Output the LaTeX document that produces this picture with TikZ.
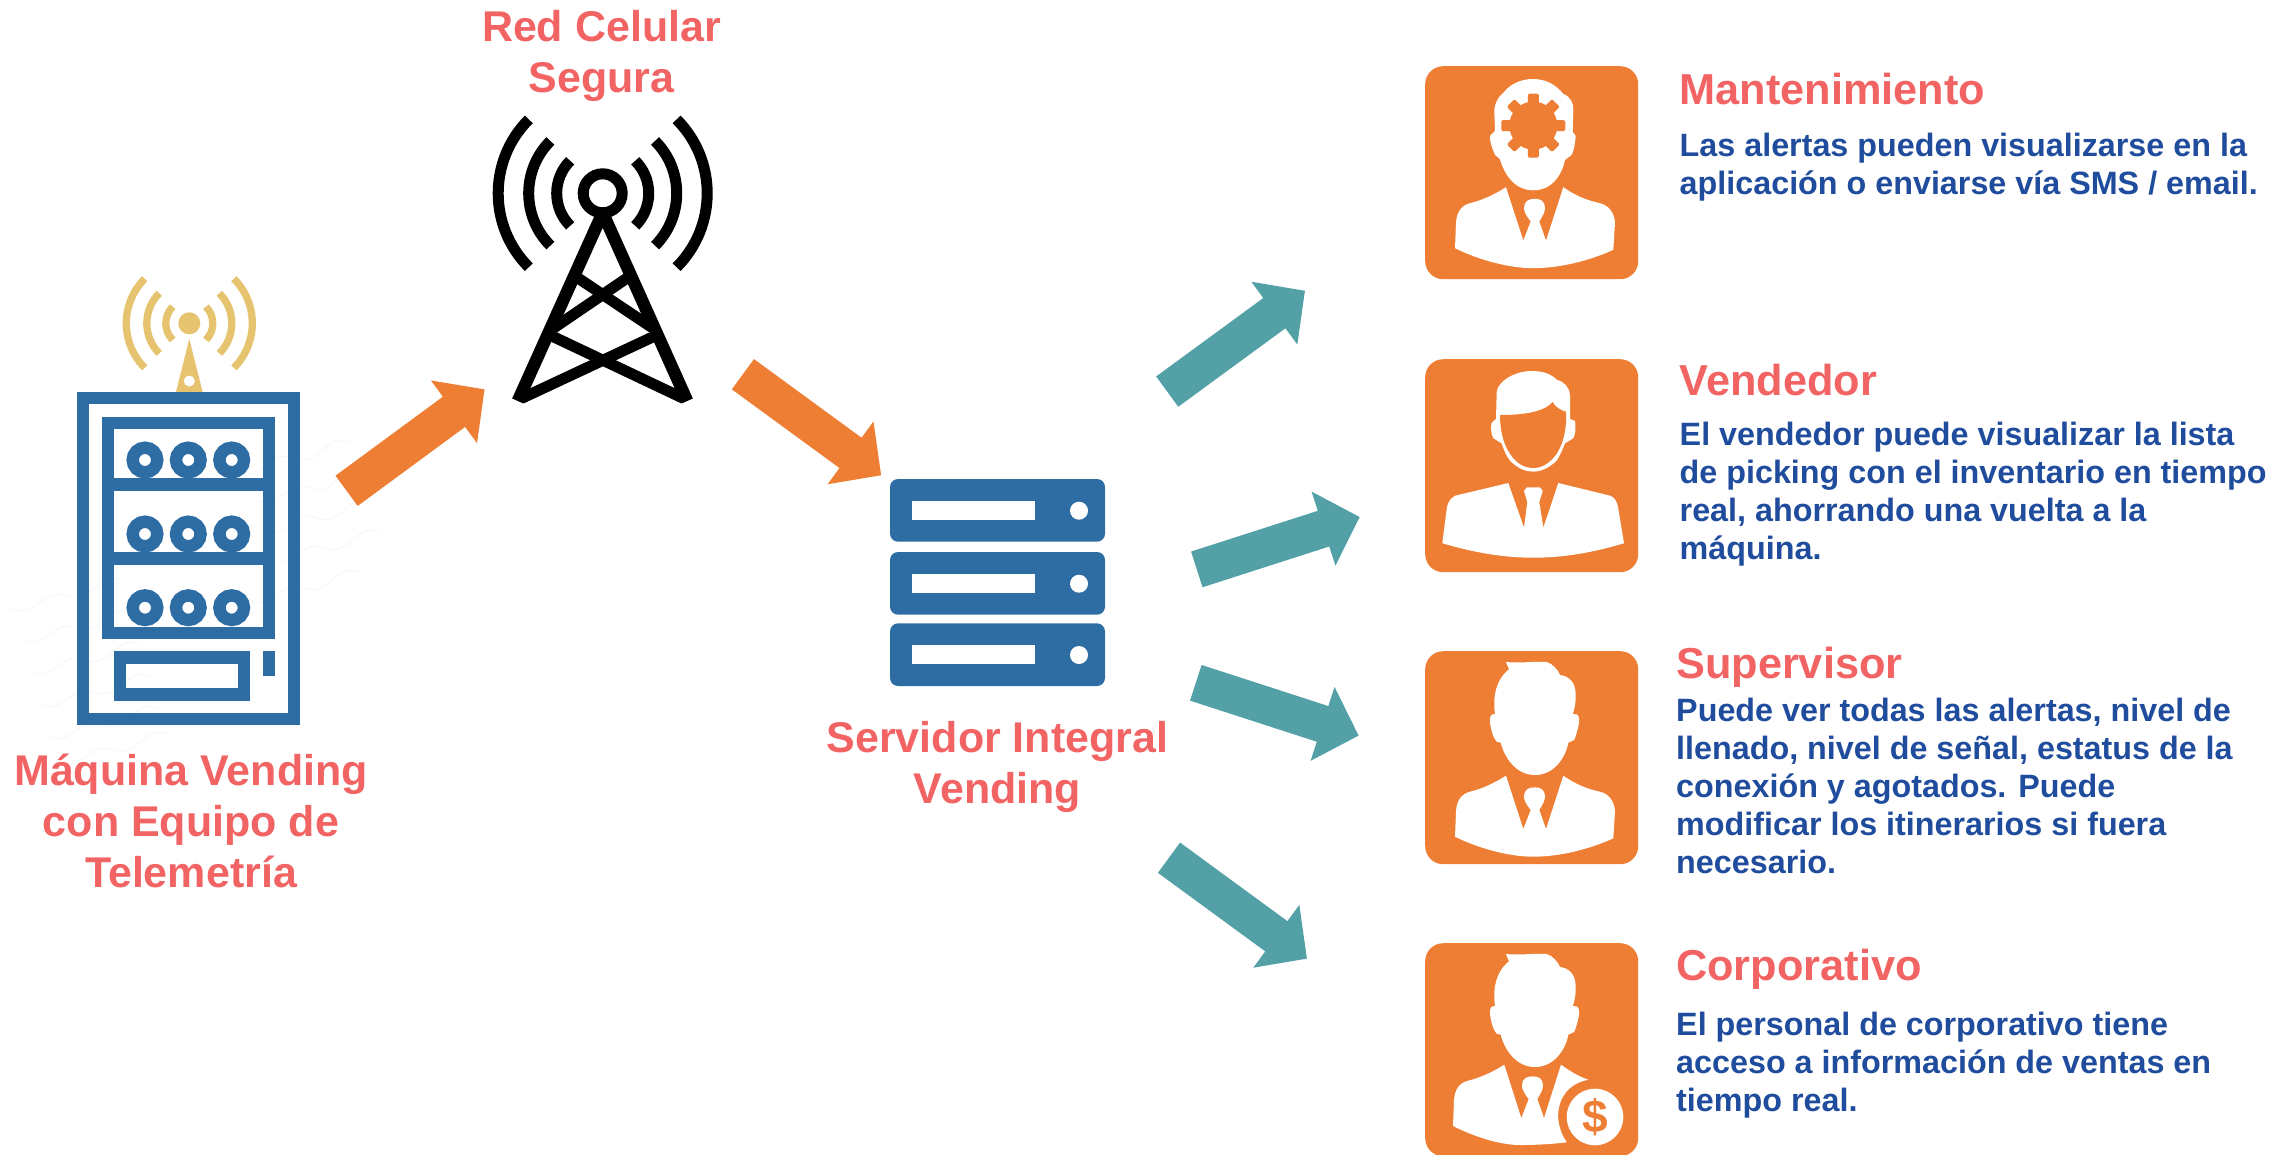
\documentclass[tikz,border=0pt]{standalone}
\usepackage{fontspec}
\setmainfont{Liberation Sans}
\usetikzlibrary{arrows.meta}
\definecolor{cardorange}{HTML}{EE7E33}
\definecolor{arrowteal}{HTML}{53A1A6}
\definecolor{iconblue}{HTML}{2E6DA4}
\definecolor{antennagold}{HTML}{E6C36F}
\definecolor{labelred}{HTML}{F26464}
\definecolor{bodynavy}{HTML}{1F4C9C}
\definecolor{wavegray}{HTML}{F7F9FC}
\tikzset{
  blockarrow/.style={line width=37.5pt,-{Triangle[length=38pt,width=75.5pt]}},
  orangearrow/.style={blockarrow,draw=cardorange},
  tealarrow/.style={blockarrow,draw=arrowteal},
  redlabel/.style={text=labelred,font=\fontsize{43}{51}\selectfont\bfseries,align=center,anchor=north,inner sep=0pt,execute at begin node=\strut},
  cardtitle/.style={text=labelred,font=\fontsize{43.3}{51}\selectfont\bfseries,anchor=base west,inner sep=0pt},
  cardtext/.style={text=bodynavy,font=\fontsize{32.3}{38}\selectfont\bfseries,align=left,anchor=north west,inner sep=0pt,execute at begin node=\strut},
  cardbox/.style={fill=cardorange,rounded corners=18pt,minimum size=213pt,inner sep=0pt,anchor=north west},
  bluebar/.style={draw=iconblue,line width=12.4pt},
  serverbox/.style={fill=iconblue,rounded corners=8pt},
}
% local coordinates of the card icons, pixels from the corner of the card
\def\plainhead{(81,11) .. controls (95,12.5) and (110,10) .. (121.7,11) .. controls (128,13) and (133,19) .. (135,24)
  .. controls (143,25) and (150,30) .. (150.7,42.3) .. controls (151,50) and (150,57) .. (147.7,63) -- (152,63.5)
  .. controls (154.5,65) and (154.5,70) .. (153.3,75.7) .. controls (152,81) and (150,88) .. (149,89) -- (143.3,91.7)
  .. controls (141,105) and (130,124) .. (110,124) .. controls (90,124) and (79,105) .. (75.7,91.7) -- (71.7,90.7)
  .. controls (69,88) and (66.5,81) .. (65.7,75.7) .. controls (64.5,70) and (64.5,65) .. (67,63.5) -- (70,63)
  .. controls (68,50) and (69,30) .. (84,18.3) -- cycle}
\def\plainbody{(81,124.7) .. controls (68,133) and (56,138) .. (45,140.7) .. controls (36,143) and (31.7,150) .. (31,160)
  -- (30,185.7) .. controls (55,198) and (85,205.7) .. (108.3,205.7) .. controls (135,205.7) and (165,198) .. (188.3,187.3)
  -- (190,160) .. controls (189,150) and (184,143) .. (175,140.7) .. controls (162,138) and (150,133) .. (138.3,124.7)
  -- (121,178) -- (114.3,159) .. controls (118,153) and (120,149) .. (120,145.7) .. controls (120,139) and (116,136.3) .. (110,136.3)
  .. controls (103,136.3) and (99,139) .. (99,145.7) .. controls (99,149) and (101,153) .. (105.7,159) -- (98.3,178) -- cycle}
\newcommand\signalarcs[3]{%
  \begin{scope}[shift={(#1,#2)},y=1pt]
    \foreach \rad in {#3}{
      \draw (45:\rad) arc (45:-45:\rad);
      \draw (135:\rad) arc (135:225:\rad);
    }
  \end{scope}}
\begin{document}
\begin{tikzpicture}[x=1pt,y=-1pt]
  \useasboundingbox (0,0) rectangle (2278,1154);
  % faint waves behind the machine
  \foreach \wx/\wy in {12/608,22/640,30/672,40/704,48/736,58/762,240/470,255/500,262/530,270/560,250/600}{
    \draw[wavegray,line width=1.5pt] (\wx,\wy) .. controls (\wx+25,\wy+12) and (\wx+30,\wy-22) .. (\wx+55,\wy-12)
      .. controls (\wx+80,\wy-2) and (\wx+85,\wy-38) .. (\wx+110,\wy-28);
  }
  % vending machine
  \fill[antennagold] (189.3,339) -- (202.7,392) -- (176,392) -- cycle;
  \fill[white] (189.3,381) circle (5.5);
  \fill[antennagold] (189.3,323.3) circle (11);
  \begin{scope}[draw=antennagold,line width=7.3pt]
    \signalarcs{189.3}{323.3}{23.5,42.5,63}
  \end{scope}
  \draw[bluebar] (83.2,398.2) rectangle (293.8,718.8);
  \draw[bluebar] (107.9,422.9) rectangle (269.1,632.8);
  \foreach \shelfy in {484.5,558.5}{
    \draw[bluebar] (107.9,\shelfy) -- (269.1,\shelfy);
  }
  \foreach \rowy in {460,534,607.7}{
    \foreach \rowx in {145,188.3,231.7}{
      \draw[bluebar] (\rowx,\rowy) circle (12.3);
    }
  }
  \draw[bluebar] (120.2,657.5) rectangle (244.1,694.5);
  \fill[iconblue] (262.7,651) rectangle (275.3,676);
  \node[redlabel] (machine) at (191,753.3) {Máquina Vending\\con Equipo de\\Telemetría};
  % tower
  \begin{scope}[draw=black,line width=11pt]
    \draw (602.7,193.3) circle (19.5);
    \signalarcs{602.7}{193.3}{46,74,104.5}
    \draw[line width=12.4pt,line join=bevel] (517.8,401) -- (602.7,212.7) -- (687.2,401);
    \draw (578.3,278.3) -- (651.7,327.3);
    \draw (626.7,278.3) -- (553.3,328.3);
    \draw (553.3,336.7) -- (683.3,398.3);
    \draw (653.3,336.7) -- (521.7,398.3);
  \end{scope}
  \node[redlabel] (network) at (601.5,10) {Red Celular\\Segura};
  % server
  \foreach \servery in {479,552,623.3}{
    \fill[serverbox] (890,\servery) rectangle (1105,\servery+62.7);
    \fill[white] (912,\servery+21.7) rectangle (1035,\servery+41);
    \fill[white] (1079,\servery+31.7) circle (9);
  }
  \node[redlabel] (server) at (997.4,720.8) {Servidor Integral\\Vending};
  % arrows
  \coordinate (o1s) at (346.6,490.8);
  \coordinate (o1e) at (484.6,389.3);
  \coordinate (o2s) at (742.9,374.2);
  \coordinate (o2e) at (881.2,475.3);
  \coordinate (t1s) at (1167.2,391.6);
  \coordinate (t1e) at (1305,290.7);
  \coordinate (t2s) at (1196.8,569.4);
  \coordinate (t2e) at (1359.7,517);
  \coordinate (t3s) at (1195.8,682.8);
  \coordinate (t3e) at (1358.7,735.6);
  \coordinate (t4s) at (1169,857.7);
  \coordinate (t4e) at (1307,958.7);
  \draw[orangearrow] (o1s) -- (o1e);
  \draw[orangearrow] (o2s) -- (o2e);
  \draw[tealarrow] (t1s) -- (t1e);
  \draw[tealarrow] (t2s) -- (t2e);
  \draw[tealarrow] (t3s) -- (t3e);
  \draw[tealarrow] (t4s) -- (t4e);
  % cards
  \node[cardbox] (maint) at (1425,66) {};
  \node[cardbox] (seller) at (1425,359) {};
  \node[cardbox] (super) at (1425,651) {};
  \node[cardbox] (corp) at (1425,943) {};
  % maintenance
  \begin{scope}[shift={(maint.north west)},white]
    \fill (108.3,13) .. controls (122,13) and (132,20) .. (138.3,27.9) .. controls (146,31) and (149,38) .. (148.3,45)
      -- (147.7,65.8) -- (150.7,70) .. controls (150,78) and (149,84) .. (146.7,88.8) -- (140,94)
      .. controls (138,104) and (130,124.3) .. (108.3,124.3) .. controls (87,124.3) and (78,104) .. (75,93.3) -- (70,88.8)
      .. controls (68,84) and (65,78) .. (65,70) -- (70,64.7) -- (69.3,45.8) .. controls (69,38) and (73,31) .. (78.3,26.9)
      .. controls (85,18) and (96,13) .. (108.3,13) -- cycle;
    \begin{scope}[yshift=3.5pt]
      \fill \plainbody;
    \end{scope}
    \fill[cardorange] (108.3,59.6) circle (24);
    \foreach \ang in {0,45,...,315}{
      \fill[cardorange,rotate around={\ang:(108.3,59.6)},rounded corners=1.5pt] (102.8,39) rectangle (113.8,27.6);
    }
  \end{scope}
  % seller
  \begin{scope}[shift={(seller.north west)}]
    \fill[white] (106.7,12) .. controls (118,12) and (126,15) .. (131.7,20.7) .. controls (140,23) and (145,30) .. (145,36)
      -- (145,60) -- (150,62) .. controls (151,68) and (150.5,75) .. (148.3,79.2) -- (140,84.4)
      .. controls (137,92) and (134,98) .. (131.7,101.6) .. controls (125,108) and (117,112.6) .. (108.3,112.6)
      .. controls (99,112.6) and (91,108) .. (85,101.6) .. controls (82,98) and (79,92) .. (76.7,84.4) -- (68.3,79.2)
      .. controls (66,75) and (65.5,68) .. (66.7,63.7) -- (71,60) -- (71.7,32.7) .. controls (73,22) and (90,12) .. (106.7,12) -- cycle;
    \fill[cardorange] (75,56) .. controls (95,56) and (118,54) .. (127.7,43) .. controls (130,48) and (135,51) .. (141,52.7)
      .. controls (142,70) and (138,85) .. (131.7,94.7) .. controls (125,104) and (117,109) .. (108.3,109)
      .. controls (99,109) and (91,104) .. (85,94.7) .. controls (78,85) and (75,70) .. (75,56) -- cycle;
    \fill[white] (83.3,124) -- (30,136.7) .. controls (24,140) and (22,146) .. (21.7,150) -- (17.3,184.2)
      .. controls (50,194) and (80,198.7) .. (108.3,198.7) .. controls (137,198.7) and (167,194) .. (199,184.2)
      -- (193,148) .. controls (192,142) and (189,138) .. (185,136.7) -- (133.3,124) -- (118.3,168.7) -- (114.3,143)
      -- (117.7,132) -- (115,128.4) -- (101.7,128.4) -- (99,132) -- (102.3,143) -- (99,168.7) -- cycle;
  \end{scope}
  % supervisor
  \begin{scope}[shift={(super.north west)}]
    \fill[white] \plainhead;
    \fill[white] \plainbody;
  \end{scope}
  % corporate
  \begin{scope}[shift={(corp.north west)}]
    \fill[white] \plainhead;
    \fill[white] (79.3,121.7) .. controls (66,130) and (54,135) .. (43,137.7) .. controls (34,140) and (29.7,147) .. (29,157)
      -- (28,183) .. controls (50,194) and (75,202) .. (95,202) .. controls (112,202) and (128,201) .. (141.7,199.3)
      .. controls (125,175) and (133,142) .. (163.3,136.7) .. controls (155,134) and (146,129) .. (136,121.7)
      -- (119,175) -- (112.3,156) .. controls (116,150) and (118,146) .. (118,142.7) .. controls (118,136) and (114,133.3) .. (108,133.3)
      .. controls (101,133.3) and (97,136) .. (97,142.7) .. controls (97,146) and (99,150) .. (103.7,156) -- (96.3,175) -- cycle;
    \fill[white] (170,174) circle (28.3);
    \node[text=cardorange,font=\fontsize{46}{46}\selectfont\bfseries,inner sep=0pt] (dollar) at (170,174) {\$};
  \end{scope}
  % card texts
  \node[cardtitle] (mainttitle) at (1679.5,104.6) {Mantenimiento};
  \node[cardtext] (mainttext) at (1679.5,132.4) {Las alertas pueden visualizarse en la\\aplicación o enviarse vía SMS / email.};
  \node[cardtitle] (sellertitle) at (1679.5,395) {Vendedor};
  \node[cardtext] (sellertext) at (1679.5,422) {El vendedor puede visualizar la lista\\de picking con el inventario en tiempo\\real, ahorrando una vuelta a la\\máquina.};
  \node[cardtitle] (supertitle) at (1676,678) {Supervisor};
  \node[cardtext] (supertext) at (1676,698) {Puede ver todas las alertas, nivel de\\llenado, nivel de señal, estatus de la\\conexión y agotados.  Puede\\modificar los itinerarios si fuera\\necesario.};
  \node[cardtitle] (corptitle) at (1676,980.6) {Corporativo};
  \node[cardtext] (corptext) at (1676,1011.8) {El personal de corporativo tiene\\acceso a información de ventas en\\tiempo real.};
\end{tikzpicture}
\end{document}
